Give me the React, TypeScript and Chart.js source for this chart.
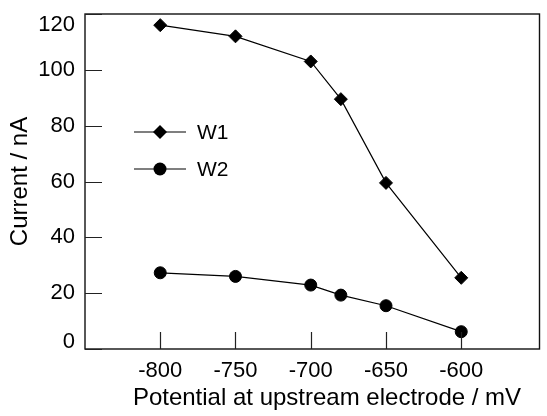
import React, { useEffect, useRef } from "react";
import { Chart, registerables } from "chart.js";

Chart.register(...registerables);

const potentials = [-800, -750, -700, -680, -650, -600];
const w1Current = [116, 112, 103, 89.5, 59.5, 25.5];
const w2Current = [27.3, 26, 22.9, 19.3, 15.5, 6.2];
const xTickValues = [-800, -750, -700, -650, -600];
const yTickValues = [0, 20, 40, 60, 80, 100, 120];
const seriesNames = ["W1", "W2"];
const xTitle = "Potential at upstream electrode / mV";
const yTitle = "Current / nA";

const FONT = "'Liberation Sans', Arial, Helvetica, sans-serif";
const TICK_LEN = 17;

const framePlugin = {
  id: "frameAndLegend",
  afterDraw(chart: any) {
    const { ctx, chartArea, scales } = chart;
    const { left, top, right, bottom } = chartArea;
    ctx.save();
    // frame
    ctx.strokeStyle = "#111";
    ctx.lineWidth = 1.4;
    ctx.strokeRect(left, top, right - left, bottom - top);

    // inner tick marks
    ctx.strokeStyle = "#222";
    ctx.lineWidth = 1.2;
    ctx.beginPath();
    scales.x.ticks.forEach((t: any) => {
      const px = Math.round(scales.x.getPixelForValue(t.value)) + 0.5;
      ctx.moveTo(px, bottom);
      ctx.lineTo(px, bottom - TICK_LEN);
    });
    scales.y.ticks.forEach((t: any) => {
      const py = Math.round(scales.y.getPixelForValue(t.value)) + 0.5;
      ctx.moveTo(left, py);
      ctx.lineTo(left + TICK_LEN, py);
    });
    ctx.stroke();

    // x axis title
    ctx.fillStyle = "#000";
    ctx.font = `24px ${FONT}`;
    ctx.textAlign = "center";
    ctx.textBaseline = "middle";
    ctx.fillText(xTitle, left + 242, 398.5);

    // legend
    const cx = left + 75;
    const rows = [top + 118, top + 155];
    rows.forEach((y, i) => {
      ctx.strokeStyle = "#000";
      ctx.lineWidth = 1.2;
      ctx.beginPath();
      ctx.moveTo(cx - 26, y);
      ctx.lineTo(cx + 26, y);
      ctx.stroke();
      ctx.fillStyle = "#000";
      ctx.beginPath();
      if (i === 0) {
        const r = 7;
        ctx.moveTo(cx - r, y);
        ctx.lineTo(cx, y - r);
        ctx.lineTo(cx + r, y);
        ctx.lineTo(cx, y + r);
        ctx.closePath();
      } else {
        ctx.arc(cx, y, 6.5, 0, Math.PI * 2);
      }
      ctx.fill();
      ctx.font = `21px ${FONT}`;
      ctx.textAlign = "left";
      ctx.textBaseline = "middle";
      ctx.fillText(seriesNames[i], left + 112, y + 1);
    });
    ctx.restore();
  },
};

export default function App() {
  const canvasRef = useRef<HTMLCanvasElement | null>(null);

  useEffect(() => {
    const canvas = canvasRef.current;
    if (!canvas) return;
    const chart = new Chart(canvas, {
      type: "line",
      data: {
        datasets: [
          {
            label: seriesNames[0],
            data: potentials.map((x, i) => ({ x, y: w1Current[i] })),
            borderColor: "#000",
            backgroundColor: "#000",
            borderWidth: 1.2,
            pointStyle: "rectRot",
            pointRadius: 6.5,
            pointBorderWidth: 1,
            pointBackgroundColor: "#000",
            pointBorderColor: "#000",
            tension: 0,
            fill: false,
          },
          {
            label: seriesNames[1],
            data: potentials.map((x, i) => ({ x, y: w2Current[i] })),
            borderColor: "#000",
            backgroundColor: "#000",
            borderWidth: 1.2,
            pointStyle: "circle",
            pointRadius: 6,
            pointBorderWidth: 1,
            pointBackgroundColor: "#000",
            pointBorderColor: "#000",
            tension: 0,
            fill: false,
          },
        ],
      },
      options: {
        animation: false,
        responsive: false,
        devicePixelRatio: 1,
        events: [],
        layout: { padding: { top: 14, right: 1, left: 0, bottom: 0 } },
        plugins: {
          legend: { display: false },
          tooltip: { enabled: false },
          title: { display: false },
        },
        scales: {
          x: {
            type: "linear",
            min: -850,
            max: -548,
            afterBuildTicks: (scale: any) => {
              scale.ticks = xTickValues.map((v) => ({ value: v }));
            },
            afterFit: (scale: any) => {
              scale.height = 67;
              scale.paddingLeft = 0;
              scale.paddingRight = 0;
            },
            border: { display: false },
            grid: {
              drawOnChartArea: false,
              drawTicks: false,
            },
            ticks: {
              padding: 9,
              color: "#000",
              maxRotation: 0,
              autoSkip: false,
              font: { family: FONT, size: 22 },
              callback: (v: any) => String(v),
            },
          },
          y: {
            type: "linear",
            min: 0,
            max: 120,
            afterBuildTicks: (scale: any) => {
              scale.ticks = yTickValues.map((v) => ({ value: v }));
            },
            afterFit: (scale: any) => {
              scale.width = 85;
              scale.paddingTop = 0;
              scale.paddingBottom = 0;
            },
            border: { display: false },
            grid: {
              drawOnChartArea: false,
              drawTicks: false,
            },
            title: {
              display: true,
              text: yTitle,
              color: "#000",
              font: { family: FONT, size: 24 },
              padding: { top: 6, bottom: 0 },
            },
            ticks: {
              padding: 10,
              color: "#000",
              autoSkip: false,
              font: (ctx: any) => {
                const v = ctx.tick ? ctx.tick.value : null;
                let lh: any = 1.2;
                if (v === 120) lh = "22px";
                if (v === 0) lh = "14px";
                return { family: FONT, size: 22, lineHeight: lh };
              },
              callback: (v: any) => {
                if (v === 120) return ["", "120"];
                if (v === 0) return ["0", ""];
                return String(v);
              },
            },
          },
        },
      },
      plugins: [framePlugin],
    } as any);
    return () => chart.destroy();
  }, []);

  return (
    <div style={{ position: "fixed", left: 0, top: 0, width: 547, height: 416, background: "#fff" }}>
      <canvas ref={canvasRef} width={547} height={416} style={{ display: "block", width: 547, height: 416 }} />
    </div>
  );
}
